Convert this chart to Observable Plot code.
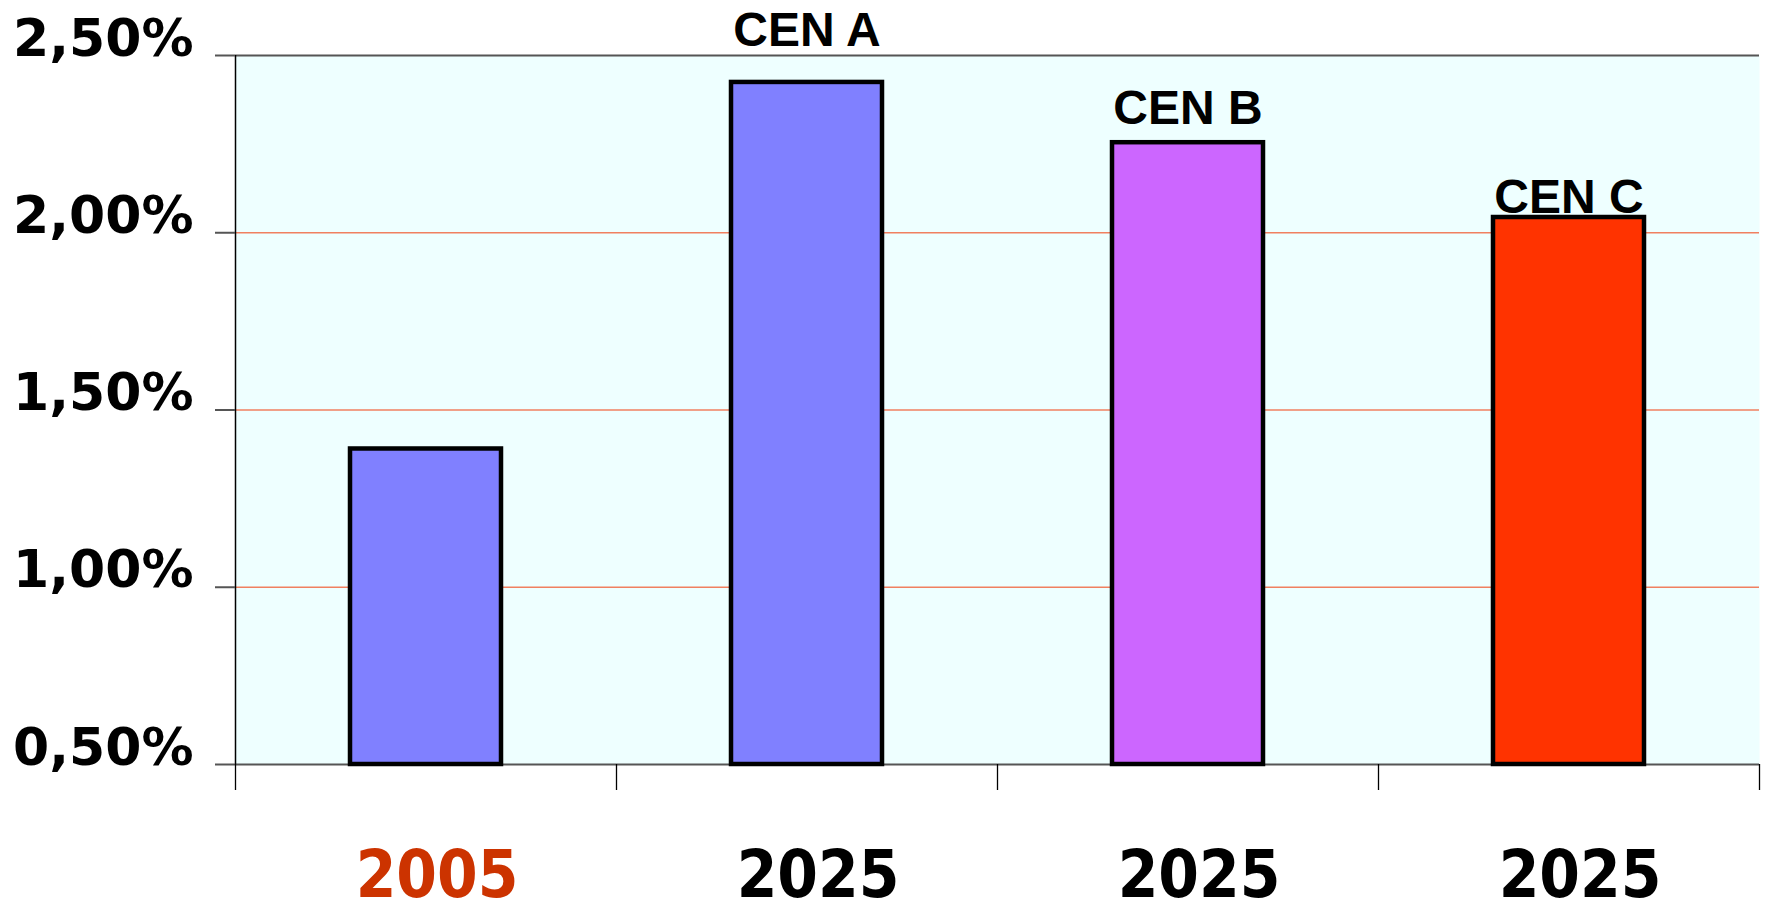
<!DOCTYPE html>
<html><head><meta charset="utf-8">
<script src="https://cdn.jsdelivr.net/npm/d3@7"></script>
<script src="https://cdn.jsdelivr.net/npm/@observablehq/plot@0.6"></script>
<style>html,body{margin:0;padding:0;background:#fff}svg{display:block}</style>
</head><body><div id="chart"></div>
<script>
const years = ["2005", "2025", "2025", "2025"];
const scenarios = ["", "CEN A", "CEN B", "CEN C"];
const values = [1.39, 2.424, 2.254, 2.043];
const labelLevels = [null, 2.526, 2.308, 2.057];
const barColors = ["#8080FF", "#8080FF", "#CC66FF", "#FF3300"];
const yTicks = [0.5, 1, 1.5, 2, 2.5];
const gridLevels = [1, 1.5, 2];
const xBounds = [0, 1, 2, 3, 4];

const data = years.map((year, i) => ({
  i, year, scenario: scenarios[i], value: values[i], labelY: labelLevels[i], color: barColors[i]
}));
const fmt = d => d.toFixed(2).replace(".", ",") + "%";

const chart = Plot.plot({
  width: 1765, height: 903,
  marginLeft: 235, marginRight: 6, marginTop: 55, marginBottom: 139,
  x: {type: "linear", domain: [0, 4]},
  y: {domain: [0.5, 2.5]},
  color: {type: "identity"},
  style: {background: "white", overflow: "visible", fontFamily: "DejaVu Sans"},
  marks: [
    Plot.frame({fill: "#EEFFFF", stroke: null}),
    Plot.ruleY(gridLevels, {stroke: "#F08060", strokeWidth: 1.3}),
    Plot.ruleY([0.5], {stroke: "#555", strokeWidth: 2}),
    Plot.ruleY([2.5], {stroke: "#555", strokeWidth: 2}),
    Plot.ruleX([0], {stroke: "#000", strokeWidth: 1.5}),
    Plot.axisY({ticks: yTicks, tickSize: 20, tickPadding: 22, tickFormat: fmt,
      fontSize: 52, fontWeight: "bold", fontFamily: "DejaVu Sans", fill: "#000",
      stroke: "#555", strokeWidth: 2, lineAnchor: "bottom", label: null}),
    Plot.axisX({ticks: xBounds, tickSize: 26, tickFormat: () => "", stroke: "#000", strokeWidth: 1.3, label: null}),
    Plot.rect(data, {x1: "i", x2: d => d.i + 1, y1: 0.5, y2: "value", fill: "color",
      stroke: "#000", strokeWidth: 4.5, insetLeft: 115, insetRight: 115}),
    Plot.text(data.filter(d => d.scenario), {x: d => d.i + 0.5, y: "labelY", text: "scenario",
      lineAnchor: "bottom", fontSize: 48, fontWeight: "bold", fontFamily: "Liberation Sans, Arial, sans-serif", fill: "#000"}),
    Plot.text(data, {x: d => d.i + 0.5, text: "year", frameAnchor: "bottom", lineAnchor: "bottom",
      dy: 132, dx: 11, fontSize: 65, fontWeight: "bold", fontFamily: "DejaVu Sans Condensed, DejaVu Sans",
      fill: d => d.year === "2005" ? "#CC3300" : "#000"})
  ]
});
document.getElementById("chart").appendChild(chart);
</script>
</body></html>
